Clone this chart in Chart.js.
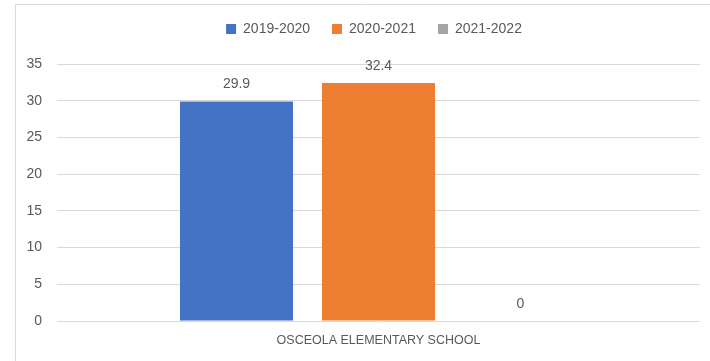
<!DOCTYPE html>
<html>
<head>
<meta charset="utf-8">
<script src="https://cdn.jsdelivr.net/npm/chart.js@4"></script>
<style>
html,body{margin:0;padding:0;background:#fff;}
#wrap{position:absolute;left:0;top:0;width:710px;height:361px;}
</style>
</head>
<body>
<div id="wrap"><canvas id="c" width="710" height="361"></canvas></div>
<script>
const categories = ["OSCEOLA ELEMENTARY SCHOOL"];
const seriesNames = ["2019-2020", "2020-2021", "2021-2022"];
const values2019 = [29.9];
const values2020 = [32.4];
const values2021 = [0];
const seriesColors = ["#4472C4", "#ED7D31", "#A5A5A5"];

const FONT = "'Liberation Sans', Arial, sans-serif";
const TEXT = "#595959";
const GRID = "#D9D9D9";

const frame = {
  id: 'frame',
  beforeDraw(chart) {
    const ctx = chart.ctx;
    ctx.save();
    ctx.fillStyle = '#fff';
    ctx.fillRect(0, 0, chart.width, chart.height);
    ctx.strokeStyle = GRID;
    ctx.lineWidth = 1;
    ctx.beginPath();
    ctx.moveTo(15.5, chart.height);
    ctx.lineTo(15.5, 4.5);
    ctx.lineTo(chart.width, 4.5);
    ctx.stroke();
    ctx.restore();
  }
};

const dataLabels = {
  id: 'dataLabels',
  afterDatasetsDraw(chart) {
    const ctx = chart.ctx;
    ctx.save();
    ctx.font = "14px " + FONT;
    ctx.fillStyle = TEXT;
    ctx.textAlign = 'center';
    ctx.textBaseline = 'middle';
    chart.data.datasets.forEach((ds, i) => {
      const meta = chart.getDatasetMeta(i);
      meta.data.forEach((bar, j) => {
        ctx.fillText(String(ds.data[j]), bar.x, bar.y - 17);
      });
    });
    ctx.restore();
  }
};

const legendSpace = {
  id: 'legendSpace',
  afterInit(chart) {
    const lg = chart.legend;
    if (!lg) return;
    const orig = lg.fit.bind(lg);
    lg.fit = function () { orig(); this.height += 18; };
  },
  afterLayout(chart) {
    const lg = chart.legend;
    if (!lg) return;
    lg.left += 24;
    lg.right += 24;
  }
};

new Chart(document.getElementById('c'), {
  type: 'bar',
  data: {
    labels: categories,
    datasets: [
      { label: seriesNames[0], data: values2019, backgroundColor: seriesColors[0] },
      { label: seriesNames[1], data: values2020, backgroundColor: seriesColors[1] },
      { label: seriesNames[2], data: values2021, backgroundColor: seriesColors[2] }
    ]
  },
  options: {
    responsive: false,
    animation: false,
    devicePixelRatio: 1,
    layout: { padding: { left: 0, right: 10, top: 0, bottom: 0 } },
    datasets: { bar: { categoryPercentage: 0.6625, barPercentage: 0.796 } },
    plugins: {
      tooltip: { enabled: false },
      legend: {
        position: 'top',
        labels: {
          font: { family: FONT, size: 14 },
          color: TEXT,
          boxWidth: 10,
          boxHeight: 10,
          padding: 22
        }
      }
    },
    scales: {
      x: {
        grid: { display: false, drawTicks: false },
        border: { display: false },
        ticks: { font: { family: FONT, size: 12.5 }, color: TEXT, padding: 12 },
        afterFit(s) { s.height = 40; }
      },
      y: {
        min: 0, max: 35,
        ticks: { stepSize: 5, font: { family: FONT, size: 14 }, color: TEXT, padding: 15 },
        grid: { color: GRID, drawTicks: false },
        border: { display: false },
        afterFit(s) { s.width = 57; }
      }
    }
  },
  plugins: [frame, dataLabels, legendSpace]
});
</script>
</body>
</html>
